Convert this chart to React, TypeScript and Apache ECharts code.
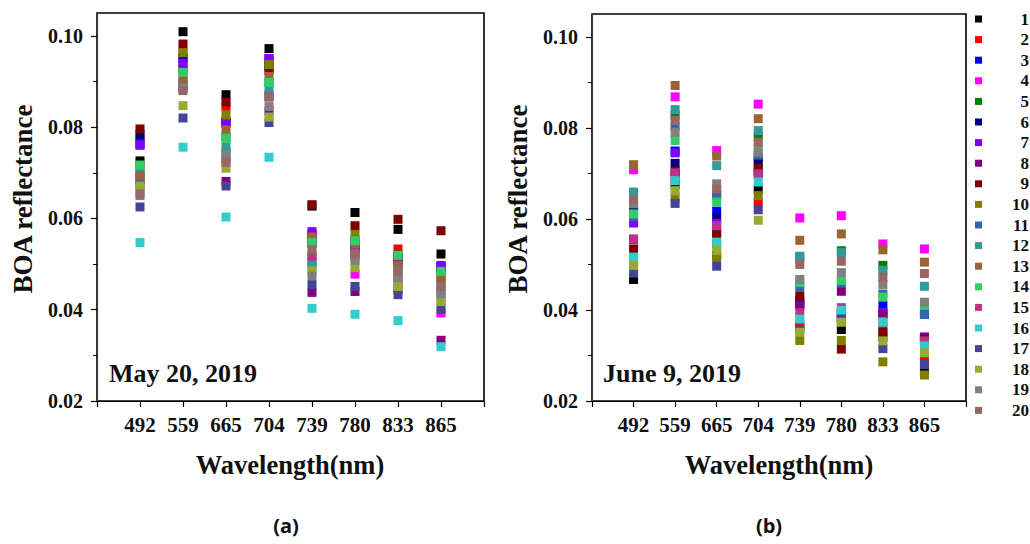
import React, { useEffect, useRef } from "react";
import * as echarts from "echarts";

const wavelengths = ["492", "559", "665", "704", "739", "780", "833", "865"];
const seriesNames = ["1","2","3","4","5","6","7","8","9","10","11","12","13","14","15","16","17","18","19","20"];
const seriesColors = [
  "#000000", "#FF0000", "#0000FF", "#FF00FF", "#008000",
  "#000080", "#8000FF", "#800080", "#800000", "#808000",
  "#3366AA", "#339999", "#996633", "#33CC66", "#BB3388",
  "#33CCCC", "#444499", "#99AA33", "#808080", "#996666",
];

// May 20, 2019 — BOA reflectance per series (rows) at each wavelength (cols)
const may20: number[][] = [
  [0.0726, 0.1009, 0.0871, 0.0972, 0.0627, 0.0613, 0.0576, 0.0522],
  [0.0774, 0.0965, 0.0845, 0.0930, 0.0560, 0.0548, 0.0533, 0.0470],
  [0.0765, 0.0950, 0.0812, 0.0948, 0.0565, 0.0535, 0.0515, 0.0492],
  [0.0760, 0.0930, 0.0810, 0.0950, 0.0565, 0.0478, 0.0508, 0.0393],
  [0.0708, 0.0925, 0.0778, 0.0898, 0.0547, 0.0553, 0.0520, 0.0485],
  [0.0784, 0.0951, 0.0812, 0.0935, 0.0545, 0.0533, 0.0505, 0.0495],
  [0.0761, 0.0940, 0.0808, 0.0950, 0.0571, 0.0535, 0.0500, 0.0497],
  [0.0685, 0.0890, 0.0681, 0.0835, 0.0438, 0.0440, 0.0445, 0.0333],
  [0.0796, 0.0982, 0.0855, 0.0924, 0.0630, 0.0584, 0.0598, 0.0573],
  [0.0675, 0.0963, 0.0827, 0.0937, 0.0520, 0.0565, 0.0490, 0.0440],
  [0.0690, 0.0900, 0.0745, 0.0870, 0.0496, 0.0515, 0.0470, 0.0445],
  [0.0698, 0.0895, 0.0757, 0.0884, 0.0505, 0.0520, 0.0488, 0.0460],
  [0.0694, 0.0906, 0.0794, 0.0911, 0.0559, 0.0545, 0.0498, 0.0466],
  [0.0717, 0.0920, 0.0776, 0.0898, 0.0547, 0.0551, 0.0519, 0.0484],
  [0.0672, 0.0885, 0.0728, 0.0866, 0.0517, 0.0525, 0.0464, 0.0420],
  [0.0547, 0.0756, 0.0603, 0.0734, 0.0403, 0.0390, 0.0376, 0.0319],
  [0.0625, 0.0820, 0.0671, 0.0810, 0.0455, 0.0451, 0.0433, 0.0401],
  [0.0671, 0.0847, 0.0710, 0.0822, 0.0486, 0.0492, 0.0451, 0.0418],
  [0.0650, 0.0885, 0.0738, 0.0845, 0.0474, 0.0508, 0.0470, 0.0435],
  [0.0654, 0.0880, 0.0723, 0.0866, 0.0531, 0.0522, 0.0484, 0.0451],
];

// June 9, 2019
const june9: number[][] = [
  [0.0467, 0.0675, 0.0520, 0.0664, 0.0364, 0.0357, 0.0340, 0.0268],
  [0.0500, 0.0690, 0.0545, 0.0635, 0.0370, 0.0375, 0.0360, 0.0292],
  [0.0622, 0.0749, 0.0617, 0.0735, 0.0415, 0.0385, 0.0410, 0.0340],
  [0.0708, 0.0868, 0.0750, 0.0852, 0.0602, 0.0607, 0.0545, 0.0534],
  [0.0615, 0.0828, 0.0655, 0.0781, 0.0515, 0.0530, 0.0498, 0.0400],
  [0.0624, 0.0722, 0.0602, 0.0724, 0.0420, 0.0395, 0.0390, 0.0390],
  [0.0591, 0.0745, 0.0590, 0.0705, 0.0410, 0.0390, 0.0395, 0.0340],
  [0.0555, 0.0700, 0.0570, 0.0700, 0.0410, 0.0441, 0.0390, 0.0340],
  [0.0534, 0.0705, 0.0567, 0.0711, 0.0431, 0.0314, 0.0351, 0.0335],
  [0.0500, 0.0648, 0.0515, 0.0651, 0.0333, 0.0333, 0.0286, 0.0257],
  [0.0605, 0.0803, 0.0651, 0.0740, 0.0450, 0.0459, 0.0435, 0.0390],
  [0.0659, 0.0840, 0.0717, 0.0794, 0.0518, 0.0526, 0.0487, 0.0452],
  [0.0719, 0.0893, 0.0738, 0.0820, 0.0553, 0.0567, 0.0532, 0.0505],
  [0.0611, 0.0772, 0.0637, 0.0756, 0.0460, 0.0465, 0.0428, 0.0410],
  [0.0556, 0.0701, 0.0585, 0.0699, 0.0394, 0.0405, 0.0375, 0.0332],
  [0.0516, 0.0684, 0.0549, 0.0681, 0.0380, 0.0399, 0.0373, 0.0321],
  [0.0481, 0.0634, 0.0496, 0.0620, 0.0355, 0.0380, 0.0315, 0.0280],
  [0.0498, 0.0662, 0.0531, 0.0597, 0.0351, 0.0373, 0.0332, 0.0306],
  [0.0633, 0.0790, 0.0677, 0.0746, 0.0467, 0.0482, 0.0456, 0.0417],
  [0.0642, 0.0816, 0.0666, 0.0768, 0.0500, 0.0507, 0.0472, 0.0480],
];

const yMajorTicks = [0.02, 0.04, 0.06, 0.08, 0.1];
const yMinorTicks = [0.03, 0.05, 0.07, 0.09];
const panelDates = ["May 20, 2019", "June 9, 2019"];
const panelTags = ["(a)", "(b)"];

const SERIF = "Liberation Serif, Times New Roman, serif";

export default function App() {
  const ref = useRef<HTMLDivElement>(null);

  useEffect(() => {
    if (!ref.current) return;
    const chart = echarts.init(ref.current, null, { renderer: "svg" });

    const grids = [
      { left: 97, top: 13, width: 387, height: 388 },
      { left: 592, top: 14, width: 374, height: 387 },
    ];

    const xAxes = grids.map((_, i) => ({
      type: "value",
      gridIndex: i,
      min: -1,
      max: 8,
      interval: 1,
      axisLine: { show: true, onZero: false, lineStyle: { color: "#000", width: 1.2 } },
      axisTick: { show: true, inside: false, length: 6, lineStyle: { color: "#000", width: 1.2 } },
      splitLine: { show: false },
      axisLabel: {
        margin: 13,
        fontFamily: SERIF,
        fontWeight: "bold",
        fontSize: 21,
        color: "#111",
        formatter: (v: number) => {
          const k = Math.round(v);
          return k >= 0 && k < wavelengths.length && Math.abs(v - k) < 1e-6 ? wavelengths[k] : "";
        },
      },
    }));

    const yAxes: any[] = [];
    grids.forEach((_, i) => {
      yAxes.push({
        type: "value",
        gridIndex: i,
        min: 0.02,
        max: 0.105,
        interval: 0.02,
        axisLine: { show: true, onZero: false, lineStyle: { color: "#444", width: 1.2 } },
        axisTick: { show: true, inside: false, length: 6, customValues: yMajorTicks, lineStyle: { color: "#000", width: 1.2 } },
        splitLine: { show: false },
        axisLabel: {
          margin: 14,
          customValues: yMajorTicks,
          fontFamily: SERIF,
          fontWeight: "bold",
          fontSize: 20,
          color: "#111",
          formatter: (v: number) =>
            Math.abs(v * 50 - Math.round(v * 50)) < 1e-6 ? v.toFixed(2) : "",
        },
      });
      yAxes.push({
        type: "value",
        gridIndex: i,
        min: 0.02,
        max: 0.105,
        position: "left",
        axisLine: { show: false, onZero: false },
        axisTick: { show: true, inside: false, length: 4, customValues: yMinorTicks, lineStyle: { color: "#000", width: 1 } },
        splitLine: { show: false },
        axisLabel: { show: false },
      });
    });

    const series: any[] = [];
    [may20, june9].forEach((panel, p) => {
      panel.forEach((vals, s) => {
        series.push({
          type: "scatter",
          name: seriesNames[s],
          xAxisIndex: p,
          yAxisIndex: p * 2,
          symbol: "rect",
          symbolSize: 9,
          itemStyle: { color: seriesColors[s], opacity: 1 },
          data: vals.map((v, i) => [i, v]),
          z: 3 + s,
        });
      });
    });

    const graphics: any[] = [];
    seriesNames.forEach((n, i) => {
      const cy = 19 + i * 20.6;
      graphics.push({
        type: "rect",
        shape: { x: 975, y: cy - 3.5, width: 7, height: 7 },
        style: { fill: seriesColors[i] },
      });
      graphics.push({
        type: "text",
        style: {
          x: 1029,
          y: cy,
          text: n,
          fill: "#111",
          fontFamily: SERIF,
          fontWeight: "bold",
          fontSize: 17,
          textAlign: "right",
          textVerticalAlign: "middle",
        },
      });
    });
    const txt = (x: number, y: number, text: string, size: number, align: string, family = SERIF) => ({
      type: "text",
      style: { x, y, text, fill: "#111", fontFamily: family, fontWeight: "bold", fontSize: size, textAlign: align, textVerticalAlign: "middle" },
    });
    graphics.push(txt(109, 373, panelDates[0], 26, "left"));
    graphics.push(txt(603, 373, panelDates[1], 26, "left"));
    [[23, 199], [518, 199]].forEach(([x, y]) => {
      graphics.push({
        type: "text",
        x,
        y,
        rotation: Math.PI / 2,
        style: { x: 0, y: 0, text: "BOA reflectance", fill: "#111", fontFamily: SERIF, fontWeight: "bold", fontSize: 27, textAlign: "center", textVerticalAlign: "middle" },
      });
    });
    graphics.push(txt(290, 465, "Wavelength(nm)", 26.5, "center"));
    graphics.push(txt(779, 465, "Wavelength(nm)", 26.5, "center"));
    graphics.push(txt(286, 525, panelTags[0], 20, "center", "Open Sans, Noto Sans, sans-serif"));
    graphics.push(txt(769, 525, panelTags[1], 20, "center", "Open Sans, Noto Sans, sans-serif"));

    chart.setOption({
      animation: false,
      backgroundColor: "#fff",
      grid: grids.map((g) => ({ ...g, show: true, borderColor: "#000", borderWidth: 1.6, backgroundColor: "transparent" })),
      xAxis: xAxes,
      yAxis: yAxes,
      series,
      graphic: graphics,
    });

    return () => chart.dispose();
  }, []);

  return (
    <div
      ref={ref}
      style={{ position: "fixed", left: 0, top: 0, width: 1030, height: 544, background: "#fff" }}
    />
  );
}
